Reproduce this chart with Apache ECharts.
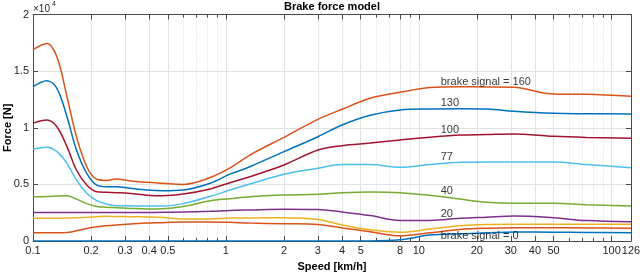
<!DOCTYPE html>
<html>
<head>
<meta charset="utf-8">
<script src="https://cdn.jsdelivr.net/npm/echarts@6/dist/echarts.min.js"></script>
<style>html,body{margin:0;padding:0;background:#fff;}#c{width:640px;height:275px;}</style>
</head>
<body>
<div id="c"></div>
<script>
// Speeds [km/h] at which curves were sampled
const speeds = [0.1, 0.118, 0.133, 0.15, 0.168, 0.19, 0.214, 0.24, 0.27, 0.32, 0.39, 0.47, 0.6, 0.83, 1.05, 1.33, 2, 3, 4, 5.6, 8, 11.4, 16.4, 22.5, 31, 50, 74, 126];

// Brake force [N] per curve
const sig0   = [0,0,0,0,0,0,0,0,0,0,0,0,0,0,0,0,0,0,0,0,100,520,650,720,800,780,750,730];
const sigA   = [720,720,720,740,900,1100,1250,1350,1420,1500,1580,1620,1680,1680,1650,1580,1530,1460,1150,820,460,720,1020,1130,1180,1170,1150,1120];
const sigB   = [2000,2000,2010,2020,2060,2100,2150,2180,2170,2150,2120,2080,1950,1950,2020,2030,2060,1900,1420,1000,770,1050,1350,1460,1480,1480,1480,1470];
const sig20  = [2520,2520,2520,2520,2520,2520,2520,2520,2520,2520,2520,2530,2550,2620,2700,2740,2800,2780,2560,2250,1820,1820,2000,2100,2200,2050,1800,1700];
const sig40  = [3910,3930,3980,4000,3700,3300,3050,2980,2940,2880,2830,2850,3050,3550,3730,3910,4060,4120,4250,4320,4270,4040,3700,3420,3330,3330,3200,3100];
const sig77  = [8100,8270,7890,6860,5390,4210,3560,3270,3120,3100,3090,3090,3300,3950,4500,5030,5890,6420,6750,6750,6510,6750,6950,6970,6970,6970,6750,6470];
const sig100 = [10390,10680,10090,8330,6270,4940,4350,4300,4270,4200,4050,4000,4150,4600,5150,5680,6710,8040,8420,8650,8920,9160,9350,9400,9450,9250,9150,9070];
const sig130 = [13630,14150,13480,10980,8040,5980,4940,4800,4800,4650,4500,4440,4500,5100,5900,6560,7890,9210,10240,11100,11570,11660,11680,11660,11450,11270,11240,11220];
const sig160 = [16900,17450,16270,12740,9210,6560,5450,5350,5470,5300,5180,5100,5000,5600,6450,7590,9150,10740,11630,12600,13130,13550,13620,13600,13570,12980,12950,12780];

// Curve annotations
const annoTexts  = ['brake signal = 160', '130', '100', '77', '40', '20', 'brake signal = 0'];
const annoSpeed  = [13, 13, 13, 13, 13, 13, 13];
const annoForce  = [14000, 12200, 9800, 7400, 4450, 2380, 450];

// Axis ticks
const majorTicks = [0.1, 0.2, 0.3, 0.4, 0.5, 1, 2, 3, 4, 5, 8, 10, 20, 30, 40, 50, 100, 126];
const minorTicks = [0.6, 0.7, 0.8, 0.9, 6, 7, 9, 60, 70, 80, 90];

const colors = ['#0072BD', '#D95319', '#EDB120', '#7E2F8E', '#77AC30', '#4DBEEE', '#A2142F', '#0072BD', '#D95319'];
const curves = [sig0, sigA, sigB, sig20, sig40, sig77, sig100, sig130, sig160];

const L = v => Math.log10(v);
const xmin = L(0.1), xmax = L(126);
const font = '"Liberation Sans", Arial, Helvetica, sans-serif';
const axisCol = '#4a4a4a';
const txtCol = '#262626';

const series = curves.map((arr, i) => ({
  type: 'line',
  data: arr.map((v, j) => [L(speeds[j]), v]),
  showSymbol: false,
  smooth: 0.35,
  lineStyle: { color: colors[i], width: 1.5 },
  itemStyle: { color: colors[i] },
  z: 2 + i,
  silent: true,
  animation: false
}));
series.push({
  type: 'scatter',
  data: annoTexts.map((t, i) => ({ value: [L(annoSpeed[i]), annoForce[i]], name: t })),
  symbolSize: 0,
  z: 20,
  silent: true,
  animation: false,
  label: {
    show: true, position: 'right', distance: 0,
    formatter: p => p.name, color: '#000', fontSize: 11, fontFamily: font
  }
});

const fmtX = v => String(parseFloat(Math.pow(10, v).toPrecision(3)));

const baseX = {
  type: 'value', min: xmin, max: xmax, gridIndex: 0
};

const chart = echarts.init(document.getElementById('c'), null, { renderer: 'canvas' });
chart.setOption({
  animation: false,
  backgroundColor: '#fff',
  textStyle: { fontFamily: font },
  title: {
    text: 'Brake force model', left: 332, top: 1, padding: 0, textAlign: 'center',
    textStyle: { fontSize: 11, fontWeight: 'bold', color: '#000', fontFamily: font }
  },
  graphic: [
    { type: 'text', left: 33, top: 4, style: { text: '×10', fontSize: 10, fill: txtCol, fontFamily: font } },
    { type: 'text', left: 52, top: 1, style: { text: '4', fontSize: 7, fill: txtCol, fontFamily: font } }
  ],
  grid: { left: 33, right: 9, top: 14.5, bottom: 34, containLabel: false, outerBoundsMode: 'none' },
  xAxis: [
    Object.assign({}, baseX, {
      position: 'bottom',
      name: 'Speed [km/h]', nameLocation: 'middle', nameGap: 20, nameMoveOverlap: false,
      nameTextStyle: { fontSize: 11, fontWeight: 'bold', color: '#000', fontFamily: font },
      axisLine: { show: true, onZero: false, lineStyle: { color: axisCol, width: 1 } },
      axisTick: { show: true, inside: true, length: 5, customValues: majorTicks.map(L), lineStyle: { color: axisCol } },
      axisLabel: { show: true, customValues: majorTicks.map(L), formatter: fmtX, fontSize: 11, color: txtCol, margin: 4, hideOverlap: false, showMinLabel: true, showMaxLabel: true, fontFamily: font },
      splitLine: { show: true, lineStyle: { color: '#e2e2e2', width: 1 } }
    }),
    Object.assign({}, baseX, {
      position: 'top',
      axisLine: { show: true, onZero: false, lineStyle: { color: axisCol, width: 1 } },
      axisTick: { show: true, inside: true, length: 5, customValues: majorTicks.map(L), lineStyle: { color: axisCol } },
      axisLabel: { show: false },
      splitLine: { show: false }
    }),
    Object.assign({}, baseX, {
      position: 'bottom',
      axisLine: { show: false, onZero: false },
      axisTick: { show: true, inside: true, length: 3, customValues: minorTicks.map(L), lineStyle: { color: axisCol } },
      axisLabel: { show: false },
      splitLine: { show: true, lineStyle: { color: '#d4d4d4', width: 1, type: [1, 2] } }
    }),
    Object.assign({}, baseX, {
      position: 'top',
      axisLine: { show: false, onZero: false },
      axisTick: { show: true, inside: true, length: 3, customValues: minorTicks.map(L), lineStyle: { color: axisCol } },
      axisLabel: { show: false },
      splitLine: { show: false }
    })
  ],
  yAxis: [
    {
      type: 'value', min: 0, max: 20000, interval: 5000, position: 'left',
      name: 'Force [N]', nameLocation: 'middle', nameGap: 20, nameMoveOverlap: false,
      nameTextStyle: { fontSize: 11, fontWeight: 'bold', color: '#000', fontFamily: font },
      axisLine: { show: true, onZero: false, lineStyle: { color: axisCol, width: 1 } },
      axisTick: { show: true, inside: true, length: 5, lineStyle: { color: axisCol } },
      axisLabel: { formatter: v => String(v / 10000), fontSize: 11, color: txtCol, margin: 4, fontFamily: font },
      splitLine: { show: true, lineStyle: { color: '#e2e2e2', width: 1 } }
    },
    {
      type: 'value', min: 0, max: 20000, interval: 5000, position: 'right',
      axisLine: { show: true, onZero: false, lineStyle: { color: axisCol, width: 1 } },
      axisTick: { show: true, inside: true, length: 5, lineStyle: { color: axisCol } },
      axisLabel: { show: false },
      splitLine: { show: false }
    }
  ],
  series: series
});
</script>
</body>
</html>
